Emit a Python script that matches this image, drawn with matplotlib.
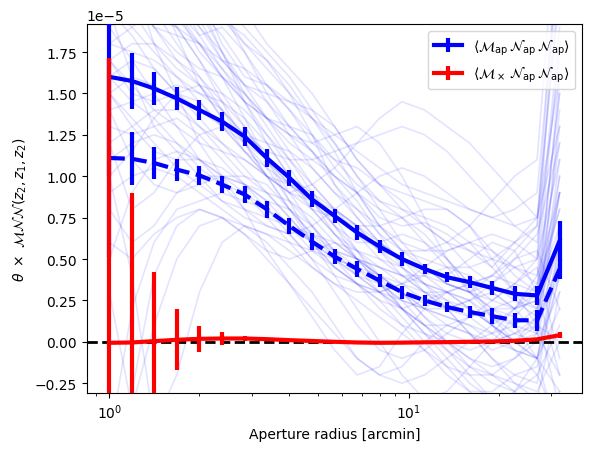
import numpy as np
import matplotlib
matplotlib.use("Agg")
import matplotlib.pyplot as plt

# aperture radii [arcmin]
theta = [1.0, 1.19, 1.41, 1.68, 2.0, 2.38, 2.83, 3.36, 4.0, 4.76, 5.66,
         6.73, 8.0, 9.51, 11.31, 13.45, 16.0, 19.03, 22.63, 26.91, 32.0]

# mean signals (units of 1e-5)
mnn = [1.60, 1.575, 1.53, 1.47, 1.40, 1.33, 1.24, 1.11, 0.99, 0.86, 0.76,
       0.66, 0.575, 0.50, 0.44, 0.39, 0.36, 0.325, 0.29, 0.28, 0.61]
mnn_err = [0.6, 0.17, 0.10, 0.07, 0.063, 0.06, 0.057, 0.057, 0.05, 0.048, 0.042,
           0.043, 0.037, 0.04, 0.03, 0.03, 0.038, 0.045, 0.046, 0.06, 0.12]

mnn_dash = [1.11, 1.105, 1.08, 1.04, 1.005, 0.95, 0.89, 0.80, 0.70, 0.605, 0.515,
            0.44, 0.37, 0.30, 0.25, 0.21, 0.18, 0.155, 0.13, 0.13, 0.44]
mnn_dash_err = [0.6, 0.16, 0.096, 0.066, 0.057, 0.05, 0.05, 0.05, 0.05, 0.05, 0.045,
                0.05, 0.038, 0.04, 0.035, 0.033, 0.038, 0.047, 0.045, 0.065, 0.06]

mx = [-0.006, -0.004, 0.004, 0.012, 0.018, 0.02, 0.02, 0.016, 0.01, 0.005, 0.0,
      -0.004, -0.006, -0.005, -0.003, -0.002, 0.0, 0.002, 0.006, 0.015, 0.04]
mx_err = [1.72, 0.90, 0.42, 0.185, 0.08, 0.038, 0.018, 0.01, 0.007, 0.005, 0.004,
          0.004, 0.003, 0.003, 0.003, 0.003, 0.003, 0.004, 0.005, 0.008, 0.02]

# individual realisations (units of 1e-5)
realisations = [
    [3.2, 3.0, 2.8, 2.6, 2.4, 2.2, 2.0, 1.8, 1.65, 1.5, 1.3, 1.1, 0.95, 0.8, 0.7, 0.6, 0.55, 0.5, 0.45, 0.4, 0.9],
    [2.6, 2.7, 2.5, 2.3, 2.1, 1.95, 1.8, 1.7, 1.55, 1.35, 1.2, 1.0, 0.85, 0.75, 0.65, 0.5, 0.35, 0.25, 0.2, 0.3, 1.5],
    [2.9, 2.5, 2.2, 2.0, 1.85, 1.9, 1.75, 1.5, 1.3, 1.15, 1.0, 0.9, 0.7, 0.55, 0.45, 0.4, 0.5, 0.6, 0.55, 0.3, -0.2],
    [2.2, 2.3, 2.4, 2.3, 2.1, 1.8, 1.6, 1.55, 1.45, 1.4, 1.3, 1.1, 0.95, 0.9, 0.85, 0.8, 0.7, 0.5, 0.3, 0.1, 0.4],
    [3.5, 3.1, 2.7, 2.3, 2.0, 1.75, 1.5, 1.3, 1.1, 0.95, 0.8, 0.7, 0.55, 0.45, 0.3, 0.2, 0.15, 0.05, -0.05, -0.1, 0.2],
    [2.4, 2.1, 1.9, 1.85, 1.8, 1.7, 1.65, 1.55, 1.4, 1.25, 1.05, 0.9, 0.75, 0.7, 0.72, 0.65, 0.55, 0.45, 0.6, 0.7, 2.2],
    [1.9, 2.0, 2.1, 2.05, 1.9, 1.75, 1.55, 1.35, 1.2, 1.1, 1.0, 0.85, 0.65, 0.45, 0.35, 0.3, 0.25, 0.15, 0.1, 0.05, 0.9],
    [2.8, 2.6, 2.3, 2.15, 2.0, 1.95, 1.85, 1.7, 1.5, 1.25, 0.95, 0.75, 0.6, 0.5, 0.45, 0.35, 0.3, 0.35, 0.45, 0.5, 1.1],
    [3.0, 2.9, 2.75, 2.5, 2.25, 2.0, 1.75, 1.55, 1.4, 1.2, 1.1, 1.05, 0.95, 0.85, 0.7, 0.6, 0.45, 0.35, 0.25, 0.15, -0.4],
    [2.5, 2.35, 2.2, 2.0, 1.75, 1.6, 1.45, 1.35, 1.25, 1.15, 1.0, 0.9, 0.8, 0.75, 0.6, 0.45, 0.3, 0.2, 0.2, 0.35, 0.8],
    [1.8, 1.75, 1.7, 1.6, 1.5, 1.45, 1.35, 1.2, 1.0, 0.85, 0.7, 0.55, 0.5, 0.45, 0.35, 0.25, 0.15, 0.2, 0.25, 0.2, 0.6],
    [1.5, 1.6, 1.55, 1.45, 1.3, 1.15, 1.0, 0.9, 0.85, 0.75, 0.6, 0.5, 0.4, 0.35, 0.3, 0.3, 0.2, 0.1, 0.0, -0.1, -0.3],
    [1.3, 1.25, 1.3, 1.35, 1.25, 1.1, 0.95, 0.85, 0.8, 0.7, 0.55, 0.4, 0.3, 0.25, 0.2, 0.15, 0.1, 0.05, 0.1, 0.2, 1.3],
    [1.7, 1.55, 1.4, 1.3, 1.2, 1.15, 1.1, 1.0, 0.9, 0.8, 0.75, 0.65, 0.55, 0.5, 0.45, 0.35, 0.3, 0.25, 0.35, 0.5, 1.9],
    [1.1, 1.2, 1.25, 1.2, 1.1, 1.0, 0.95, 0.9, 0.75, 0.6, 0.5, 0.4, 0.3, 0.2, 0.05, -0.05, -0.15, -0.2, -0.25, -0.3, 0.0],
    [2.0, 1.85, 1.65, 1.5, 1.4, 1.3, 1.25, 1.2, 1.15, 1.05, 0.9, 0.8, 0.7, 0.6, 0.55, 0.55, 0.6, 0.65, 0.6, 0.5, 2.5],
    [1.6, 1.45, 1.35, 1.2, 1.05, 0.95, 0.9, 0.8, 0.7, 0.6, 0.55, 0.5, 0.45, 0.35, 0.25, 0.2, 0.25, 0.3, 0.2, 0.05, -0.2],
    [1.4, 1.45, 1.5, 1.55, 1.5, 1.4, 1.25, 1.1, 0.95, 0.8, 0.65, 0.55, 0.45, 0.4, 0.4, 0.35, 0.3, 0.2, 0.15, 0.1, 0.5],
    [0.8, 0.6, 0.7, 0.9, 1.0, 1.0, 0.95, 0.85, 0.7, 0.55, 0.45, 0.35, 0.3, 0.2, 0.1, 0.0, -0.1, -0.15, -0.1, 0.0, 0.3],
    [-0.6, 0.2, 0.6, 0.8, 0.85, 0.9, 0.85, 0.8, 0.7, 0.6, 0.5, 0.45, 0.35, 0.3, 0.2, 0.1, 0.05, 0.0, -0.05, -0.1, 0.6],
    [0.5, 0.9, 1.1, 1.15, 1.1, 1.0, 0.9, 0.75, 0.6, 0.45, 0.35, 0.25, 0.15, 0.05, -0.05, -0.15, -0.2, -0.35, -0.4, -0.4, -0.5],
    [-0.8, -0.3, 0.4, 0.7, 0.8, 0.75, 0.7, 0.65, 0.55, 0.45, 0.35, 0.3, 0.3, 0.35, 0.4, 0.45, 0.4, 0.3, 0.2, 0.25, 1.0],
    [2.3, 2.2, 2.0, 1.8, 1.6, 1.4, 1.25, 1.15, 1.1, 1.1, 1.15, 1.2, 1.25, 1.3, 1.25, 1.15, 1.0, 0.85, 0.7, 0.6, 1.7],
    [1.9, 1.7, 1.5, 1.3, 1.1, 0.95, 0.8, 0.7, 0.65, 0.7, 0.8, 0.9, 1.0, 1.05, 1.0, 0.9, 0.8, 0.75, 0.8, 0.9, 2.4],
    [2.7, 2.4, 2.1, 1.9, 1.7, 1.5, 1.3, 1.1, 0.9, 0.7, 0.5, 0.35, 0.2, 0.1, 0.05, 0.0, -0.1, -0.2, -0.3, -0.45, -0.6],
    [2.1, 2.0, 1.95, 1.9, 1.8, 1.65, 1.45, 1.25, 1.05, 0.85, 0.65, 0.5, 0.35, 0.25, 0.2, 0.2, 0.25, 0.35, 0.5, 0.65, 1.2],
    [1.5, 1.35, 1.2, 1.05, 0.95, 0.85, 0.8, 0.75, 0.7, 0.65, 0.6, 0.5, 0.4, 0.3, 0.15, 0.0, -0.15, -0.25, -0.3, -0.2, 0.1],
    [3.8, 3.3, 2.9, 2.5, 2.2, 2.0, 1.8, 1.65, 1.5, 1.35, 1.25, 1.15, 1.05, 0.95, 0.9, 0.85, 0.8, 0.75, 0.7, 0.75, 1.3],
    [2.0, 1.9, 1.75, 1.6, 1.45, 1.3, 1.15, 1.05, 0.95, 0.85, 0.7, 0.6, 0.6, 0.65, 0.6, 0.5, 0.35, 0.15, 0.0, -0.1, 0.4],
    [1.2, 1.3, 1.4, 1.4, 1.3, 1.2, 1.05, 0.9, 0.75, 0.6, 0.45, 0.35, 0.25, 0.2, 0.25, 0.3, 0.35, 0.4, 0.35, 0.3, 0.7],
    [2.5, 2.45, 2.3, 2.1, 1.9, 1.7, 1.55, 1.45, 1.3, 1.15, 0.95, 0.8, 0.65, 0.55, 0.5, 0.45, 0.45, 0.5, 0.6, 0.75, 1.6],
    [1.7, 1.8, 1.8, 1.7, 1.55, 1.35, 1.15, 1.0, 0.9, 0.85, 0.8, 0.7, 0.55, 0.4, 0.3, 0.25, 0.2, 0.1, -0.05, -0.2, -0.5],
    [0.9, 1.0, 1.05, 1.0, 0.9, 0.8, 0.7, 0.65, 0.6, 0.55, 0.5, 0.45, 0.4, 0.3, 0.2, 0.15, 0.1, 0.0, 0.05, 0.15, 0.9],
    [3.0, 2.7, 2.45, 2.2, 2.0, 1.85, 1.65, 1.45, 1.25, 1.05, 0.9, 0.75, 0.6, 0.5, 0.4, 0.3, 0.2, 0.1, 0.0, 0.1, 0.6],
    [2.2, 2.05, 1.9, 1.75, 1.65, 1.6, 1.5, 1.35, 1.15, 0.95, 0.8, 0.7, 0.6, 0.5, 0.35, 0.2, 0.05, -0.05, 0.0, 0.15, 1.1],
    [1.6, 1.7, 1.65, 1.5, 1.35, 1.2, 1.1, 1.0, 0.95, 0.9, 0.8, 0.65, 0.5, 0.4, 0.35, 0.3, 0.35, 0.4, 0.5, 0.55, 0.2],
    [1.0, 0.4, -0.5, -0.2, 0.3, 0.6, 0.7, 0.6, 0.45, 0.3, 0.1, -0.1, -0.2, -0.15, 0.0, 0.1, 0.05, -0.1, -0.25, -0.35, 0.3],
    [2.4, 2.2, 1.8, 1.5, 1.2, 1.0, 0.8, 0.55, 0.35, 0.15, -0.05, -0.2, -0.15, 0.05, 0.2, 0.3, 0.25, 0.1, 0.0, 0.05, 1.4],
    [1.9, 2.1, 1.9, 1.7, 1.6, 1.45, 1.3, 1.1, 0.85, 0.6, 0.4, 0.2, 0.0, -0.2, -0.35, -0.3, -0.15, 0.0, 0.15, 0.3, 0.8],
    [2.8, 2.4, 2.0, 1.9, 1.7, 1.45, 1.2, 1.0, 0.9, 0.95, 1.05, 1.2, 1.35, 1.45, 1.4, 1.3, 1.2, 1.05, 0.9, 0.75, 2.1],
    [1.2, 0.8, 0.9, 1.1, 1.25, 1.3, 1.2, 1.05, 0.85, 0.7, 0.55, 0.45, 0.3, 0.15, 0.0, -0.15, -0.3, -0.4, -0.3, -0.1, 0.5],
    [3.3, 2.9, 2.6, 2.35, 2.15, 2.05, 1.9, 1.75, 1.6, 1.4, 1.2, 1.0, 0.8, 0.6, 0.45, 0.35, 0.3, 0.4, 0.55, 0.7, 2.6],
    [2.0, 1.6, 1.3, 1.15, 1.0, 0.85, 0.75, 0.7, 0.65, 0.5, 0.3, 0.1, -0.05, -0.1, -0.05, 0.05, 0.15, 0.2, 0.1, -0.1, -0.6],
    [2.6, 2.5, 2.4, 2.2, 1.95, 1.7, 1.55, 1.5, 1.45, 1.35, 1.15, 0.9, 0.7, 0.55, 0.55, 0.6, 0.7, 0.85, 1.0, 1.1, 2.8],
    [1.4, 1.1, 0.95, 0.9, 0.95, 1.0, 1.0, 0.95, 0.8, 0.65, 0.5, 0.4, 0.35, 0.25, 0.1, -0.05, -0.2, -0.2, -0.1, 0.05, 1.0],
    [0.3, -0.4, 0.1, 0.5, 0.7, 0.75, 0.65, 0.55, 0.5, 0.55, 0.6, 0.55, 0.4, 0.2, 0.05, -0.1, -0.25, -0.35, -0.45, -0.5, -0.3],
    [2.2, 2.4, 2.3, 2.1, 1.85, 1.65, 1.5, 1.35, 1.25, 1.2, 1.25, 1.3, 1.2, 1.0, 0.75, 0.5, 0.3, 0.15, 0.05, 0.0, 0.7],
    [1.7, 1.5, 1.45, 1.5, 1.45, 1.3, 1.15, 1.0, 0.8, 0.6, 0.45, 0.35, 0.3, 0.35, 0.45, 0.55, 0.6, 0.55, 0.45, 0.35, 1.5],
    [3.6, 3.2, 2.8, 2.4, 2.05, 1.75, 1.45, 1.2, 1.0, 0.8, 0.65, 0.5, 0.4, 0.3, 0.15, 0.05, 0.0, 0.05, 0.2, 0.4, 1.8],
    [1.0, 1.15, 1.35, 1.5, 1.55, 1.5, 1.4, 1.25, 1.1, 0.9, 0.7, 0.5, 0.35, 0.2, 0.1, 0.0, -0.05, 0.0, 0.05, 0.1, 0.0],
    [2.3, 2.0, 1.8, 1.65, 1.55, 1.4, 1.2, 1.0, 0.8, 0.65, 0.55, 0.5, 0.45, 0.4, 0.3, 0.2, 0.05, -0.1, -0.2, -0.25, 0.6],
    [1.8, 1.9, 2.0, 1.95, 1.8, 1.6, 1.35, 1.1, 0.95, 0.85, 0.75, 0.7, 0.7, 0.75, 0.8, 0.8, 0.7, 0.55, 0.4, 0.3, 1.2],
    [2.9, 2.6, 2.2, 1.85, 1.55, 1.35, 1.2, 1.1, 1.0, 0.9, 0.75, 0.55, 0.35, 0.2, 0.1, 0.1, 0.15, 0.25, 0.35, 0.45, -0.1],
    [1.5, 1.3, 1.15, 1.1, 1.1, 1.05, 0.95, 0.8, 0.65, 0.5, 0.4, 0.35, 0.25, 0.1, -0.05, -0.2, -0.3, -0.3, -0.2, -0.15, 0.4],
    [2.1, 2.25, 2.2, 2.0, 1.8, 1.6, 1.45, 1.35, 1.3, 1.25, 1.1, 0.95, 0.85, 0.8, 0.75, 0.7, 0.6, 0.45, 0.3, 0.2, 1.6],
    [0.6, 0.5, 0.65, 0.75, 0.8, 0.75, 0.65, 0.5, 0.35, 0.2, 0.05, -0.1, -0.2, -0.25, -0.2, -0.1, 0.0, 0.1, 0.2, 0.25, 0.9],
]

scale = 1e-5

fig, ax = plt.subplots(figsize=(5.91, 4.52), dpi=100)
fig.subplots_adjust(left=0.147, right=0.985, top=0.945, bottom=0.128)

for r in realisations:
    ax.plot(theta, np.array(r) * scale, color='b', alpha=0.11, lw=1.2, zorder=1)

ax.errorbar(theta, np.array(mnn) * scale, yerr=np.array(mnn_err) * scale,
            color='b', lw=3, elinewidth=3, capsize=0, zorder=3,
            label=r'$\langle \mathcal{M}_\mathrm{ap}\,\mathcal{N}_\mathrm{ap}\,\mathcal{N}_\mathrm{ap}\rangle$')
ax.errorbar(theta, np.array(mnn_dash) * scale, yerr=np.array(mnn_dash_err) * scale,
            color='b', ls='--', lw=3, elinewidth=3, capsize=0, zorder=3)
ax.axhline(0, color='k', ls='--', lw=2, zorder=2)
ax.errorbar(theta, np.array(mx) * scale, yerr=np.array(mx_err) * scale,
            color='r', lw=3, elinewidth=3, capsize=0, zorder=4,
            label=r'$\langle \mathcal{M}_\times\,\mathcal{N}_\mathrm{ap}\,\mathcal{N}_\mathrm{ap}\rangle$')

ax.set_xscale('log')
ax.set_ylim(-0.31e-5, 1.92e-5)
ax.set_xlabel('Aperture radius [arcmin]')
ax.set_ylabel(r'$\theta\ \times\ \mathcal{MNN}(z_2, z_1, z_2)$')
ax.legend(loc='upper right')

plt.savefig('out.png', dpi=100)
